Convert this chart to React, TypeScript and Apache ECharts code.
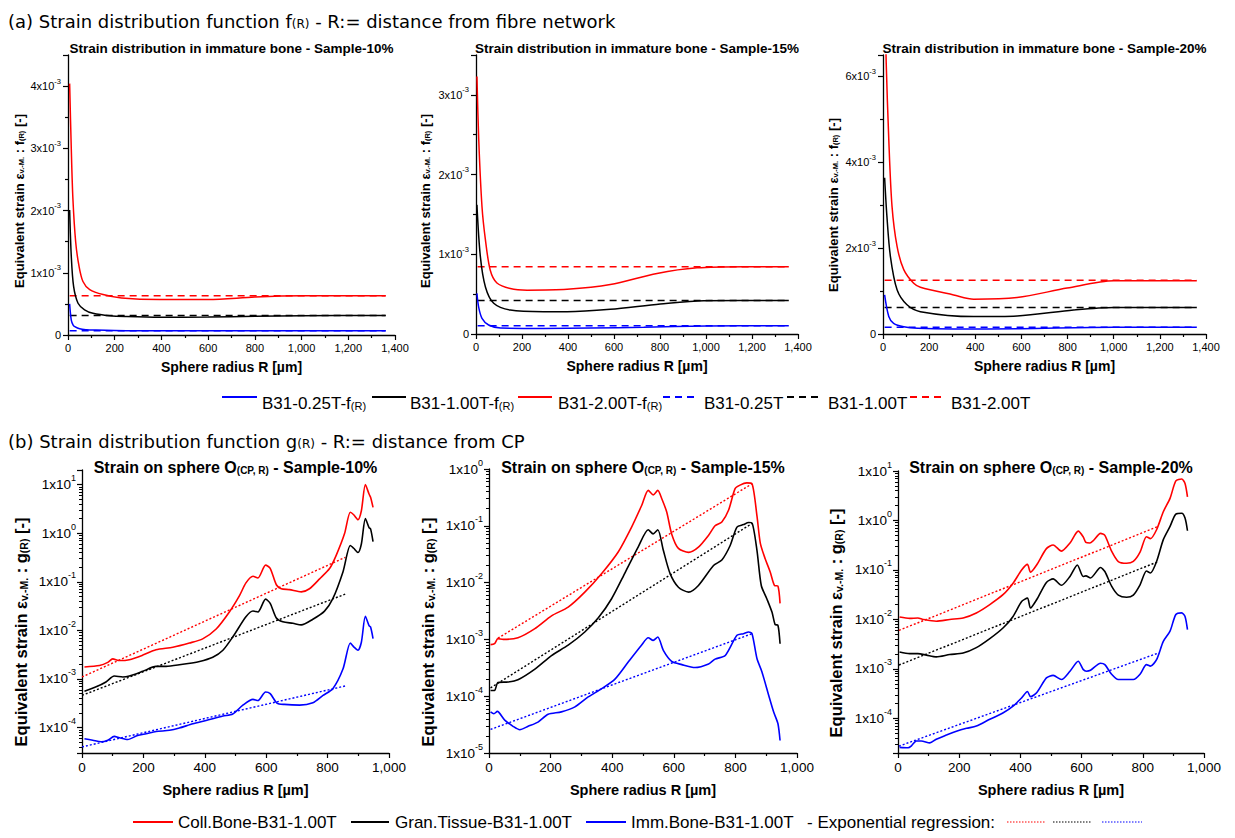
import React, { useEffect, useRef } from 'react';
import * as echarts from 'echarts';

const FONT = '"Liberation Sans", Arial, sans-serif';
const HFONT = '"DejaVu Sans", Verdana, sans-serif';
const RED = '#ff0000';
const BLACK = '#000000';
const BLUE = '#0000ff';

// ---------- (a) f(R) curves : [radius µm, strain] ----------
const a10Blue = [[7, 0.50e-3], [14, 0.24e-3], [22, 0.16e-3], [29, 0.135e-3], [50, 0.10e-3], [80, 0.085e-3], [107, 0.08e-3], [250, 0.07e-3], [600, 0.068e-3], [1000, 0.07e-3], [1360, 0.07e-3]];
const a10Black = [[7, 2.01e-3], [14, 1.27e-3], [24, 0.78e-3], [43, 0.51e-3], [71, 0.405e-3], [107, 0.35e-3], [179, 0.31e-3], [250, 0.297e-3], [393, 0.286e-3], [600, 0.29e-3], [800, 0.30e-3], [1000, 0.31e-3], [1360, 0.313e-3]];
const a10Red = [[7, 4.04e-3], [14, 3.0e-3], [21, 2.19e-3], [33, 1.49e-3], [47, 1.11e-3], [64, 0.86e-3], [93, 0.73e-3], [150, 0.65e-3], [229, 0.595e-3], [393, 0.57e-3], [600, 0.57e-3], [800, 0.61e-3], [1000, 0.63e-3], [1360, 0.632e-3]];
const a10Levels = [0.07e-3, 0.313e-3, 0.632e-3]; // blue, black, red (B31-0.25T, 1.00T, 2.00T)

const a15Blue = [[4, 0.51e-3], [12, 0.33e-3], [26, 0.197e-3], [55, 0.113e-3], [106, 0.075e-3], [294, 0.07e-3], [500, 0.075e-3], [729, 0.085e-3], [1000, 0.1e-3], [1360, 0.105e-3]];
const a15Black = [[4, 1.62e-3], [19, 0.97e-3], [41, 0.59e-3], [77, 0.385e-3], [149, 0.30e-3], [294, 0.28e-3], [396, 0.28e-3], [584, 0.31e-3], [801, 0.377e-3], [990, 0.418e-3], [1360, 0.42e-3]];
const a15Red = [[4, 3.23e-3], [12, 2.43e-3], [26, 1.6e-3], [41, 1.18e-3], [62, 0.80e-3], [91, 0.64e-3], [149, 0.57e-3], [222, 0.55e-3], [396, 0.56e-3], [584, 0.62e-3], [787, 0.76e-3], [961, 0.83e-3], [1164, 0.845e-3], [1360, 0.845e-3]];
const a15Levels = [0.105e-3, 0.42e-3, 0.845e-3];

const a20Blue = [[7, 0.91e-3], [25, 0.41e-3], [46, 0.25e-3], [90, 0.17e-3], [150, 0.135e-3], [306, 0.117e-3], [595, 0.125e-3], [1000, 0.156e-3], [1360, 0.156e-3]];
const a20Black = [[7, 3.64e-3], [17, 2.74e-3], [32, 1.81e-3], [61, 1.03e-3], [104, 0.68e-3], [162, 0.52e-3], [393, 0.405e-3], [581, 0.42e-3], [826, 0.56e-3], [1000, 0.62e-3], [1360, 0.62e-3]];
const a20Red = [[7, 8.0e-3], [14, 6.3e-3], [25, 4.54e-3], [39, 2.98e-3], [61, 2.04e-3], [90, 1.5e-3], [133, 1.18e-3], [162, 1.09e-3], [306, 0.91e-3], [393, 0.81e-3], [581, 0.85e-3], [798, 1.07e-3], [1000, 1.24e-3], [1360, 1.24e-3]];
const a20Levels = [0.156e-3, 0.62e-3, 1.25e-3];

const levelRange = [7, 1360];

// ---------- (b) g(R) curves : [radius µm, strain] ----------
const b10Red = [[8, 1.77e-3], [57, 1.9e-3], [84, 2.2e-3], [100, 2.6e-3], [122, 2.4e-3], [154, 2.5e-3], [198, 3.1e-3], [241, 4.0e-3], [296, 4.5e-3], [350, 5.5e-3], [393, 6.7e-3], [437, 1.07e-2], [480, 2.4e-2], [513, 5.2e-2], [534, 9.5e-2], [557, 0.13], [573, 0.12], [598, 0.22], [613, 0.19], [633, 0.087], [649, 0.072], [676, 0.069], [714, 0.062], [741, 0.072], [774, 0.115], [807, 0.19], [828, 0.35], [855, 0.97], [874, 2.7], [885, 2.4], [899, 1.9], [910, 2.9], [923, 10], [935, 6.4], [940, 5.5], [948, 3.4]];
const b10Black = [[8, 5.6e-4], [46, 6.9e-4], [78, 8.7e-4], [105, 1.15e-3], [133, 1.1e-3], [154, 1.15e-3], [198, 1.44e-3], [241, 1.82e-3], [274, 1.82e-3], [317, 1.96e-3], [383, 2.3e-3], [426, 2.8e-3], [459, 3.9e-3], [491, 7.3e-3], [534, 1.9e-2], [557, 2.5e-2], [573, 2.4e-2], [598, 4.4e-2], [613, 3.6e-2], [633, 1.8e-2], [654, 1.5e-2], [687, 1.4e-2], [714, 1.3e-2], [752, 1.7e-2], [790, 2.5e-2], [817, 4.5e-2], [850, 0.16], [874, 0.56], [885, 0.49], [899, 0.40], [910, 0.6], [923, 2.0], [935, 1.3], [940, 1.23], [948, 0.67]];
const b10Blue = [[8, 5.9e-5], [35, 5.5e-5], [62, 5.1e-5], [84, 5.5e-5], [105, 6.6e-5], [122, 6.2e-5], [149, 5.7e-5], [181, 6.9e-5], [209, 7.5e-5], [241, 8.3e-5], [285, 8.8e-5], [317, 9.8e-5], [361, 1.2e-4], [404, 1.4e-4], [459, 1.73e-4], [491, 1.9e-4], [524, 2.9e-4], [557, 3.8e-4], [573, 3.6e-4], [598, 5.4e-4], [613, 5.0e-4], [635, 3.2e-4], [659, 3.0e-4], [709, 2.9e-4], [752, 3.25e-4], [785, 4.6e-4], [817, 6.3e-4], [850, 1.6e-3], [874, 5.5e-3], [885, 4.6e-3], [899, 3.9e-3], [910, 5.7e-3], [923, 1.95e-2], [935, 1.25e-2], [940, 1.17e-2], [948, 6.8e-3]];
const b10RegRed = [[0, 1.1e-3], [858, 0.32]];
const b10RegBlack = [[0, 4.6e-4], [858, 0.056]];
const b10RegBlue = [[0, 4.0e-5], [858, 7.2e-4]];

const b15Red = [[5, 8.1e-4], [18, 8.4e-4], [29, 1.03e-3], [46, 1.0e-3], [94, 1.07e-3], [149, 1.55e-3], [203, 2.6e-3], [257, 3.7e-3], [311, 6.8e-3], [366, 1.45e-2], [420, 3.5e-2], [463, 9.5e-2], [496, 0.23], [517, 0.42], [533, 0.35], [548, 0.42], [561, 0.30], [577, 0.175], [593, 0.072], [615, 0.04], [648, 0.034], [680, 0.042], [713, 0.068], [734, 0.1], [756, 0.117], [778, 0.19], [799, 0.45], [815, 0.52], [837, 0.57], [854, 0.55], [870, 0.15], [881, 0.049], [897, 0.026], [913, 0.0154], [927, 8.9e-3], [938, 8.7e-3], [945, 4.3e-3]];
const b15Black = [[5, 1.26e-4], [18, 1.26e-4], [29, 1.74e-4], [62, 1.78e-4], [94, 1.95e-4], [149, 3.0e-4], [203, 5.2e-4], [257, 7.9e-4], [311, 1.35e-3], [355, 2.4e-3], [398, 5.2e-3], [442, 1.5e-2], [485, 4.3e-2], [517, 8.5e-2], [533, 7.2e-2], [548, 8.5e-2], [566, 3.7e-2], [588, 1.44e-2], [615, 8.3e-3], [648, 6.8e-3], [680, 8.9e-3], [729, 2.0e-2], [756, 2.5e-2], [783, 4.5e-2], [805, 9.5e-2], [826, 0.105], [843, 0.114], [854, 0.112], [870, 0.037], [884, 8.9e-3], [902, 5.2e-3], [919, 3.0e-3], [929, 1.82e-3], [938, 1.78e-3], [945, 8.4e-4]];
const b15Blue = [[5, 5.3e-5], [16, 4.9e-5], [27, 5.4e-5], [51, 3.8e-5], [78, 2.95e-5], [100, 2.57e-5], [127, 2.95e-5], [159, 3.5e-5], [192, 4.8e-5], [235, 5.3e-5], [279, 6.5e-5], [322, 9.7e-5], [366, 1.36e-4], [409, 2.0e-4], [452, 4.0e-4], [495, 7.9e-4], [517, 1.07e-3], [533, 9.6e-4], [548, 1.1e-3], [566, 6.4e-4], [593, 4.1e-4], [626, 3.6e-4], [669, 3.2e-4], [713, 3.7e-4], [734, 4.5e-4], [767, 5.2e-4], [805, 1.18e-3], [826, 1.26e-3], [843, 1.35e-3], [854, 1.26e-3], [870, 4.6e-4], [886, 2.7e-4], [908, 1.04e-4], [924, 5.3e-5], [938, 3.3e-5], [945, 1.66e-5]];
const b15RegRed = [[29, 1.05e-3], [854, 0.55]];
const b15RegBlack = [[5, 1.4e-4], [854, 0.11]];
const b15RegBlue = [[5, 2.6e-5], [854, 1.26e-3]];

const b20Red = [[5, 1.12e-2], [38, 1.05e-2], [65, 1.07e-2], [82, 1.0e-2], [125, 9.2e-3], [169, 1.0e-2], [213, 1.07e-2], [256, 1.35e-2], [300, 2.0e-2], [344, 3.2e-2], [376, 5.4e-2], [404, 0.1], [423, 0.13], [433, 0.09], [453, 0.126], [485, 0.27], [507, 0.32], [534, 0.24], [562, 0.35], [589, 0.61], [605, 0.47], [614, 0.36], [627, 0.35], [638, 0.39], [662, 0.55], [676, 0.50], [698, 0.24], [720, 0.148], [747, 0.137], [769, 0.149], [791, 0.23], [812, 0.47], [825, 0.43], [845, 0.65], [867, 1.5], [889, 2.8], [908, 6.3], [927, 6.9], [938, 5.6], [946, 3.0]];
const b20Black = [[5, 2.2e-3], [38, 2.04e-3], [65, 2.04e-3], [93, 1.9e-3], [125, 1.75e-3], [169, 1.95e-3], [213, 2.1e-3], [256, 2.7e-3], [300, 4.1e-3], [344, 6.8e-3], [376, 1.15e-2], [404, 2.3e-2], [423, 2.7e-2], [433, 1.7e-2], [453, 2.5e-2], [485, 5.6e-2], [507, 6.6e-2], [534, 4.9e-2], [562, 7.4e-2], [586, 0.126], [605, 7.4e-2], [614, 7.6e-2], [629, 6.9e-2], [662, 0.112], [676, 0.093], [698, 4.7e-2], [720, 3.1e-2], [747, 2.8e-2], [769, 3.1e-2], [791, 5.0e-2], [812, 9.5e-2], [825, 8.7e-2], [845, 0.148], [867, 0.41], [889, 0.76], [908, 1.35], [927, 1.4], [938, 1.12], [946, 0.62]];
const b20Blue = [[5, 2.6e-5], [33, 2.55e-5], [44, 2.8e-5], [60, 3.5e-5], [76, 3.5e-5], [104, 3.2e-5], [125, 3.8e-5], [158, 4.6e-5], [191, 5.5e-5], [224, 6.3e-5], [256, 7.0e-5], [300, 9.6e-5], [344, 1.3e-4], [376, 1.77e-4], [404, 2.6e-4], [423, 3.5e-4], [433, 2.75e-4], [453, 3.3e-4], [485, 6.6e-4], [507, 7.4e-4], [534, 6.1e-4], [562, 9.0e-4], [589, 1.43e-3], [605, 9.8e-4], [616, 9.0e-4], [629, 9.4e-4], [662, 1.3e-3], [676, 1.22e-3], [698, 7.8e-4], [720, 6.1e-4], [769, 6.1e-4], [791, 7.8e-4], [812, 1.22e-3], [825, 1.14e-3], [845, 1.54e-3], [867, 3.6e-3], [889, 5.8e-3], [908, 1.26e-2], [927, 1.36e-2], [938, 1.15e-2], [946, 6.2e-3]];
const b20RegRed = [[3, 6.0e-3], [851, 0.76]];
const b20RegBlack = [[3, 1.2e-3], [851, 0.148]];
const b20RegBlue = [[3, 2.75e-5], [851, 2.1e-3]];

const topTitles = ['Sample-10%', 'Sample-15%', 'Sample-20%'];
const topYMax = [4.5e-3, 3.5e-3, 6.5e-3];
const topYInterval = [1e-3, 1e-3, 2e-3];
const botYMin = [3e-5, 1e-5, 2e-5];
const botYMax = [20, 1, 10];
const topLegend = ['B31-0.25T-f', 'B31-1.00T-f', 'B31-2.00T-f', 'B31-0.25T', 'B31-1.00T', 'B31-2.00T'];
const botLegend = ['Coll.Bone-B31-1.00T', 'Gran.Tissue-B31-1.00T', 'Imm.Bone-B31-1.00T'];

const grids = [
  { left: 68, top: 55, width: 327, height: 280 },
  { left: 476, top: 55, width: 322, height: 279 },
  { left: 883, top: 55, width: 323, height: 279 },
  { left: 82, top: 470, width: 307, height: 283 },
  { left: 489, top: 469, width: 308, height: 284 },
  { left: 898, top: 471, width: 306, height: 282 },
];
// centre of rotated y-axis titles
const yNamePos = [[15, 201], [421, 201], [829, 205], [17, 632], [424, 632], [832, 623]];

const axisLineStyle = { color: '#000', width: 1.3 };

function xAxisCfg(i: number, max: number, labelSize: number, nameSize: number, nameGap: number) {
  return {
    type: 'value', gridIndex: i, min: 0, max, interval: 200,
    name: 'Sphere radius R [µm]', nameLocation: 'middle', nameGap,
    nameTextStyle: { fontWeight: 'bold', fontSize: nameSize, fontFamily: FONT, color: '#000' },
    axisLine: { lineStyle: axisLineStyle },
    axisTick: { length: 5, lineStyle: { color: '#000', width: 1.2 } },
    minorTick: { show: true, splitNumber: 2, length: 3, lineStyle: { color: '#000', width: 1.2 } },
    axisLabel: { fontSize: labelSize, fontFamily: FONT, color: '#000', margin: 7, formatter: (v: number) => v.toLocaleString('en-US') },
    splitLine: { show: false }, minorSplitLine: { show: false },
  };
}

function topYAxis(i: number) {
  const itv = topYInterval[i];
  return {
    type: 'value', gridIndex: i, min: 0, max: topYMax[i], interval: itv,
    axisLine: { lineStyle: axisLineStyle },
    axisTick: { length: 5, lineStyle: { color: '#000', width: 1.2 } },
    minorTick: { show: true, splitNumber: 2, length: 3, lineStyle: { color: '#000', width: 1.2 } },
    axisLabel: {
      margin: 7,
      formatter: (v: number) => {
        if (Math.abs(v) < 1e-12) return '{n|0}';
        const m = v * 1000;
        const r = Math.round(m);
        if (Math.abs(m - r) > 1e-6 || r % Math.round(itv * 1000) !== 0) return '';
        return `{n|${r}x10}{p|-3}`;
      },
      rich: {
        n: { fontSize: 11, fontFamily: FONT, color: '#000', lineHeight: 18 },
        p: { fontSize: 7.5, fontFamily: FONT, color: '#000', lineHeight: 9, verticalAlign: 'top' },
      },
    },
    splitLine: { show: false }, minorSplitLine: { show: false },
  };
}

function botYAxis(j: number) {
  return {
    type: 'log', logBase: 10, gridIndex: 3 + j, min: botYMin[j], max: botYMax[j],
    axisLine: { lineStyle: axisLineStyle },
    axisTick: { length: 5, lineStyle: { color: '#000', width: 1.2 } },
    minorTick: { show: true, splitNumber: 9, length: 3, lineStyle: { color: '#000', width: 1 } },
    axisLabel: {
      margin: 6,
      formatter: (v: number) => {
        const e = Math.log10(v);
        const r = Math.round(e);
        if (Math.abs(e - r) > 1e-6) return '';
        return `{n|1x10}{p|${r}}`;
      },
      rich: {
        n: { fontSize: 13.5, fontFamily: FONT, color: '#000', lineHeight: 22 },
        p: { fontSize: 9, fontFamily: FONT, color: '#000', lineHeight: 11, verticalAlign: 'top' },
      },
    },
    splitLine: { show: false }, minorSplitLine: { show: false },
  };
}

function line(i: number, data: number[][], color: string, type: any, smooth: number, width = 1.5) {
  return {
    type: 'line', xAxisIndex: i, yAxisIndex: i, data, showSymbol: false, symbol: 'none',
    smooth, silent: true, lineStyle: { color, width, type }, itemStyle: { color },
  };
}

function levelLine(i: number, v: number, color: string) {
  return line(i, [[levelRange[0], v], [levelRange[1], v]], color, [7, 5], 0, 1.5);
}

const textStyle = (size: number, weight = 'normal', family = FONT) => ({ fontSize: size, fontWeight: weight, fontFamily: family, fill: '#000' });

function richText(x: number, y: number, text: string, size: number, sub: number, weight: string, family: string, align = 'left', rotation = 0) {
  return {
    type: 'text', x, y, rotation, silent: true,
    style: {
      text, align, verticalAlign: 'middle',
      ...textStyle(size, weight, family),
      rich: {
        m: { fontSize: size, fontWeight: weight, fontFamily: family, fill: '#000', lineHeight: size + 8, verticalAlign: 'bottom' },
        s: { fontSize: sub, fontWeight: weight, fontFamily: family, fill: '#000', lineHeight: sub + 1, verticalAlign: 'bottom' },
      },
    },
  };
}

function legLine(x1: number, x2: number, y: number, color: string, dash: any, width = 1.8) {
  return { type: 'line', silent: true, shape: { x1, y1: y, x2, y2: y }, style: { stroke: color, lineWidth: width, lineDash: dash } };
}

export default function App() {
  const ref = useRef<HTMLDivElement>(null);
  useEffect(() => {
    if (!ref.current) return;
    const chart = echarts.init(ref.current, undefined, { renderer: 'svg' });

    const topSets = [
      [a10Blue, a10Black, a10Red, a10Levels],
      [a15Blue, a15Black, a15Red, a15Levels],
      [a20Blue, a20Black, a20Red, a20Levels],
    ] as any[];
    const botSets = [
      [b10Red, b10Black, b10Blue, b10RegRed, b10RegBlack, b10RegBlue],
      [b15Red, b15Black, b15Blue, b15RegRed, b15RegBlack, b15RegBlue],
      [b20Red, b20Black, b20Blue, b20RegRed, b20RegBlack, b20RegBlue],
    ] as any[];

    const series: any[] = [];
    topSets.forEach((s, i) => {
      series.push(levelLine(i, s[3][0], BLUE), levelLine(i, s[3][1], BLACK), levelLine(i, s[3][2], RED));
      series.push(line(i, s[0], BLUE, 'solid', 0.3), line(i, s[1], BLACK, 'solid', 0.3), line(i, s[2], RED, 'solid', 0.3));
    });
    botSets.forEach((s, j) => {
      const g = 3 + j;
      series.push(line(g, s[3], RED, [2, 2], 0, 1.4), line(g, s[4], BLACK, [2, 2], 0, 1.4), line(g, s[5], BLUE, [2, 2], 0, 1.4));
      series.push(line(g, s[0], RED, 'solid', 0.25, 1.6), line(g, s[1], BLACK, 'solid', 0.25, 1.6), line(g, s[2], BLUE, 'solid', 0.25, 1.6));
    });

    const graphic: any[] = [
      richText(8, 17, '{m|(a) Strain distribution function f}{s|(R)}{m| - R:= distance from fibre network}', 18, 12, 'normal', HFONT),
      richText(8, 437, '{m|(b) Strain distribution function g}{s|(R)}{m| - R:= distance from CP}', 18, 12, 'normal', HFONT),
    ];
    topTitles.forEach((t, i) => {
      const g = grids[i];
      graphic.push({ type: 'text', x: g.left + g.width / 2, y: 48, silent: true, style: { text: 'Strain distribution in immature bone - ' + t, align: 'center', verticalAlign: 'middle', ...textStyle(13.5, 'bold') } });
    });
    topTitles.forEach((t, j) => {
      const g = grids[3 + j];
      graphic.push(richText(g.left + g.width / 2, 463, `{m|Strain on sphere O}{s|(CP, R)}{m| - ${t}}`, 16, 10, 'bold', FONT, 'center'));
    });
    // rotated y-axis titles
    yNamePos.forEach(([x, y], k) => {
      const top = k < 3;
      const fn = top ? 'f' : 'g';
      graphic.push(richText(x, y, `{m|Equivalent strain ε}{s|v.-M.}{m| : ${fn}}{s|(R)}{m| [-]}`, top ? 13 : 16.5, top ? 7.5 : 10.5, 'bold', FONT, 'center', Math.PI / 2));
    });

    // top legend
    const ly = 397;
    const topLegX = [[222, 257, 262], [372, 406, 410], [518, 552, 558], [663, 699, 704], [787, 821, 828], [910, 944, 951]];
    const topLegC = [BLUE, BLACK, RED, BLUE, BLACK, RED];
    topLegend.forEach((name, k) => {
      const [x1, x2, tx] = topLegX[k];
      graphic.push(legLine(x1, x2, ly, topLegC[k], k < 3 ? null : [7, 5]));
      const txt = k < 3 ? `{m|${name}}{s|(R)}` : `{m|${name}}`;
      graphic.push(richText(tx, ly + 2, txt, 17, 11, 'normal', FONT));
    });

    // bottom legend
    const by = 822;
    const botLegX = [[133, 173, 178], [351, 389, 395], [586, 626, 631]];
    const botLegC = [RED, BLACK, BLUE];
    botLegend.forEach((name, k) => {
      const [x1, x2, tx] = botLegX[k];
      graphic.push(legLine(x1, x2, by, botLegC[k], null));
      graphic.push({ type: 'text', x: tx, y: by, silent: true, style: { text: name, align: 'left', verticalAlign: 'middle', ...textStyle(17) } });
    });
    graphic.push({ type: 'text', x: 807, y: by, silent: true, style: { text: '- Exponential regression:', align: 'left', verticalAlign: 'middle', ...textStyle(17) } });
    graphic.push(legLine(1007, 1046, by, RED, [1.5, 1.5], 1.2));
    graphic.push(legLine(1053, 1092, by, BLACK, [1.5, 1.5], 1.2));
    graphic.push(legLine(1102, 1142, by, BLUE, [1.5, 1.5], 1.2));

    const option: any = {
      animation: false,
      backgroundColor: '#ffffff',
      grid: grids.map((g) => ({ ...g, containLabel: false })),
      xAxis: [
        xAxisCfg(0, 1400, 11, 14, 25), xAxisCfg(1, 1400, 11, 14, 25), xAxisCfg(2, 1400, 11, 14, 25),
        xAxisCfg(3, 1000, 13.5, 14.5, 29), xAxisCfg(4, 1000, 13.5, 14.5, 29), xAxisCfg(5, 1000, 13.5, 14.5, 29),
      ],
      yAxis: [topYAxis(0), topYAxis(1), topYAxis(2), botYAxis(0), botYAxis(1), botYAxis(2)],
      series,
      graphic,
    };
    chart.setOption(option);
    return () => chart.dispose();
  }, []);

  return <div ref={ref} style={{ position: 'absolute', left: 0, top: 0, width: 1235, height: 838, background: '#fff' }} />;
}
